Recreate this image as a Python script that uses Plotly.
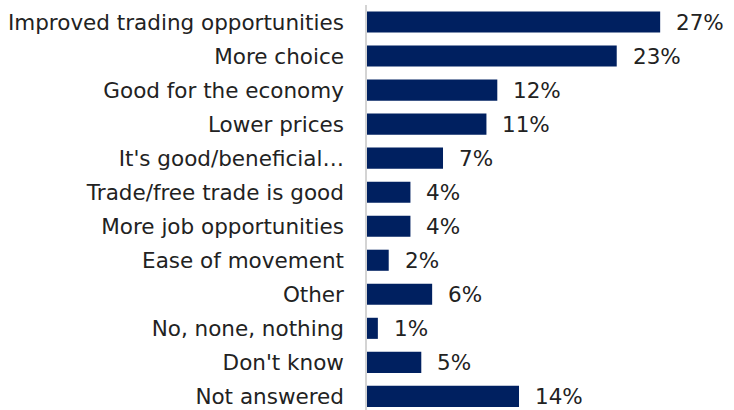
import plotly.graph_objects as go

# Survey responses: perceived benefits
categories = [
    "Improved trading opportunities",
    "More choice",
    "Good for the economy",
    "Lower prices",
    "It's good/beneficial…",
    "Trade/free trade is good",
    "More job opportunities",
    "Ease of movement",
    "Other",
    "No, none, nothing",
    "Don't know",
    "Not answered",
]
values = [27, 23, 12, 11, 7, 4, 4, 2, 6, 1, 5, 14]
value_labels = [f"{v}%" for v in values]

BAR_COLOR = "#002060"
TEXT_COLOR = "#222222"
FONT = "DejaVu Sans"
FONT_SIZE = 21.5

fig = go.Figure(
    go.Bar(
        x=values,
        y=categories,
        orientation="h",
        marker=dict(color=BAR_COLOR, line=dict(width=0)),
        width=0.62,
        hoverinfo="skip",
    )
)

# value labels to the right of each bar
for cat, val, lab in zip(categories, values, value_labels):
    fig.add_annotation(
        x=val,
        y=cat,
        xref="x",
        yref="y",
        text=lab,
        showarrow=False,
        xanchor="left",
        yanchor="middle",
        xshift=14,
        font=dict(family=FONT, size=FONT_SIZE, color=TEXT_COLOR),
    )

fig.update_layout(
    width=734,
    height=410,
    margin=dict(l=367, r=0, t=5, b=0),
    paper_bgcolor="white",
    plot_bgcolor="white",
    showlegend=False,
    font=dict(family=FONT, size=FONT_SIZE, color=TEXT_COLOR),
    bargap=0.38,
)
fig.update_xaxes(
    range=[0, 33.8],
    visible=False,
    showgrid=False,
    zeroline=False,
)
fig.update_yaxes(
    type="category",
    categoryorder="array",
    categoryarray=categories,
    range=[11.4, -0.5],
    showline=True,
    linecolor="#d4d4d4",
    linewidth=1.5,
    showgrid=False,
    zeroline=False,
    ticks="",
    ticklabelstandoff=17,
    tickfont=dict(family=FONT, size=FONT_SIZE, color=TEXT_COLOR),
)

fig.write_html("out.html")
